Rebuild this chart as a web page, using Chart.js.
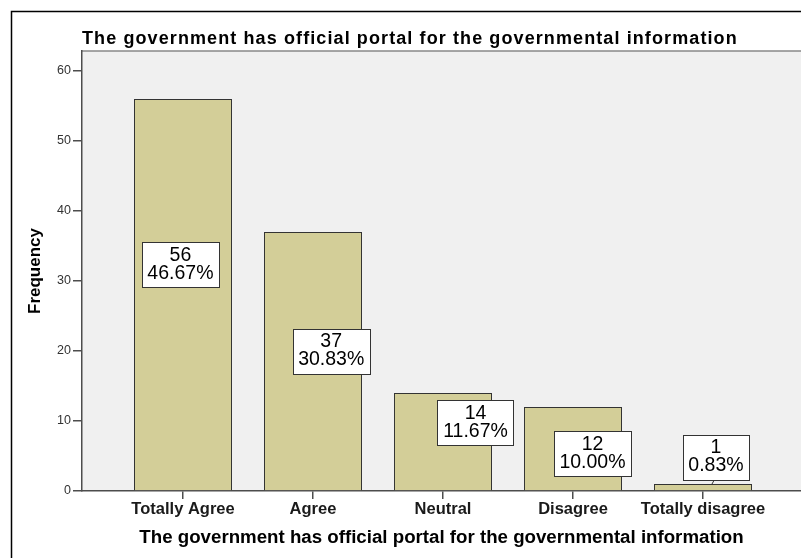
<!DOCTYPE html>
<html>
<head>
<meta charset="utf-8">
<script src="https://cdn.jsdelivr.net/npm/chart.js@4.4.1/dist/chart.umd.min.js"></script>
<style>
html,body{margin:0;padding:0;background:#fff;}
canvas{display:block;}
</style>
</head>
<body>
<canvas id="chart" width="801" height="558"></canvas>
<script>
const chartTitle = "The government has official portal for the governmental information";
const categories = ["Totally Agree", "Agree", "Neutral", "Disagree", "Totally disagree"];
const frequency = [56, 37, 14, 12, 1];
const yTicks = [0, 10, 20, 30, 40, 50, 60];
// where the value boxes sit: height in frequency units, sideways shift in category units
const boxY = [32.4, 20, 9.8, 5.4, 4.85];
const boxShift = [-0.02, 0.14, 0.25, 0.15, 0.1];

const total = frequency.reduce((a, b) => a + b, 0);
const FONT = '"Liberation Sans", Arial, sans-serif';

// ================= background, frame, title =================
const backdrop = {
    id: 'backdrop',
    beforeDraw(chart) {
        const {ctx, chartArea: a, width, height} = chart;
        ctx.save();
        ctx.fillStyle = '#fff';
        ctx.fillRect(0, 0, width, height);
        ctx.fillStyle = '#f0f0f0';
        ctx.fillRect(a.left, a.top, a.right - a.left, a.bottom - a.top);
        ctx.strokeStyle = '#888';
        ctx.lineWidth = 1.5;
        ctx.beginPath();
        ctx.moveTo(a.left, a.top);
        ctx.lineTo(a.right, a.top);
        ctx.stroke();
        // outer frame runs off the right and bottom edge
        ctx.strokeStyle = '#000';
        ctx.strokeRect(11.5, 11.5, width + 20, height + 20);
        ctx.fillStyle = '#000';
        ctx.font = 'bold 18px ' + FONT;
        ctx.letterSpacing = '1.1px';
        ctx.textAlign = 'left';
        ctx.textBaseline = 'alphabetic';
        ctx.fillText(chartTitle, a.left, 43.5);
        ctx.restore();
    }
};

// ================= value / percent boxes =================
const valueBoxes = {
    id: 'valueBoxes',
    afterDatasetsDraw(chart) {
        const {ctx, scales: {x, y}} = chart;
        const bars = chart.getDatasetMeta(0).data;
        ctx.save();
        ctx.font = '19.5px ' + FONT;
        ctx.textAlign = 'center';
        ctx.textBaseline = 'middle';
        frequency.forEach((v, i) => {
            const lines = [String(v), (v / total * 100).toFixed(2) + '%'];
            const w = Math.round(Math.max(...lines.map(t => ctx.measureText(t).width)) + 11);
            const h = 45;
            const cx = x.getPixelForValue(i + boxShift[i]);
            const cy = y.getPixelForValue(boxY[i]);
            const left = Math.round(cx - w / 2) + 0.5;
            const top = Math.round(cy - h / 2) + 0.5;
            if (top + h < bars[i].y) {
                ctx.strokeStyle = '#333';
                ctx.lineWidth = 1;
                ctx.beginPath();
                ctx.moveTo(cx - 2, top + h);
                ctx.lineTo(cx - 4, bars[i].y);
                ctx.stroke();
            }
            ctx.fillStyle = '#fff';
            ctx.fillRect(left, top, w, h);
            ctx.strokeStyle = '#333';
            ctx.lineWidth = 1;
            ctx.strokeRect(left, top, w, h);
            ctx.fillStyle = '#000';
            ctx.fillText(lines[0], cx, cy - 9);
            ctx.fillText(lines[1], cx, cy + 9);
        });
        ctx.restore();
    }
};

// ================= chart =================
new Chart(document.getElementById('chart'), {
    type: 'bar',
    data: {
        datasets: [{
            data: frequency.map((v, i) => ({x: i, y: v})),
            backgroundColor: '#d3ce98',
            borderColor: '#333',
            borderWidth: 1,
            barPercentage: 0.754,
            categoryPercentage: 1
        }]
    },
    options: {
        responsive: false,
        animation: false,
        devicePixelRatio: 1,
        layout: {padding: {top: 51, left: 0, right: 0, bottom: 0}},
        plugins: {legend: {display: false}, tooltip: {enabled: false}},
        scales: {
            x: {
                type: 'linear',
                offset: false,
                min: -0.777,
                max: 4.754,
                afterBuildTicks: s => { s.ticks = categories.map((c, i) => ({value: i})); },
                afterFit: s => { s.height = 67; },
                ticks: {
                    callback: v => categories[v],
                    font: {family: FONT, size: 16.5, weight: 'bold'},
                    color: '#1a1a1a',
                    padding: 1,
                    maxRotation: 0,
                    autoSkip: false
                },
                grid: {offset: false, drawOnChartArea: false, tickLength: 8, color: '#4d4d4d', lineWidth: 1.5},
                border: {color: '#4d4d4d', width: 1.5},
                title: {
                    display: true,
                    text: chartTitle,
                    font: {family: FONT, size: 18.7, weight: 'bold'},
                    color: '#000',
                    padding: {top: 0, bottom: 8.8}
                }
            },
            y: {
                min: 0,
                max: 62.86,
                afterBuildTicks: s => { s.ticks = yTicks.map(v => ({value: v})); },
                afterFit: s => { s.width = 82; },
                ticks: {font: {family: FONT, size: 12.5}, color: '#333', padding: 2},
                grid: {drawOnChartArea: false, tickLength: 9, color: '#4d4d4d', lineWidth: 1.5},
                border: {color: '#4d4d4d', width: 1.5},
                title: {
                    display: true,
                    text: 'Frequency',
                    font: {family: FONT, size: 17, weight: 'bold'},
                    color: '#000',
                    padding: {top: 24.8, bottom: 0}
                }
            }
        }
    },
    plugins: [backdrop, valueBoxes]
});
</script>
</body>
</html>
